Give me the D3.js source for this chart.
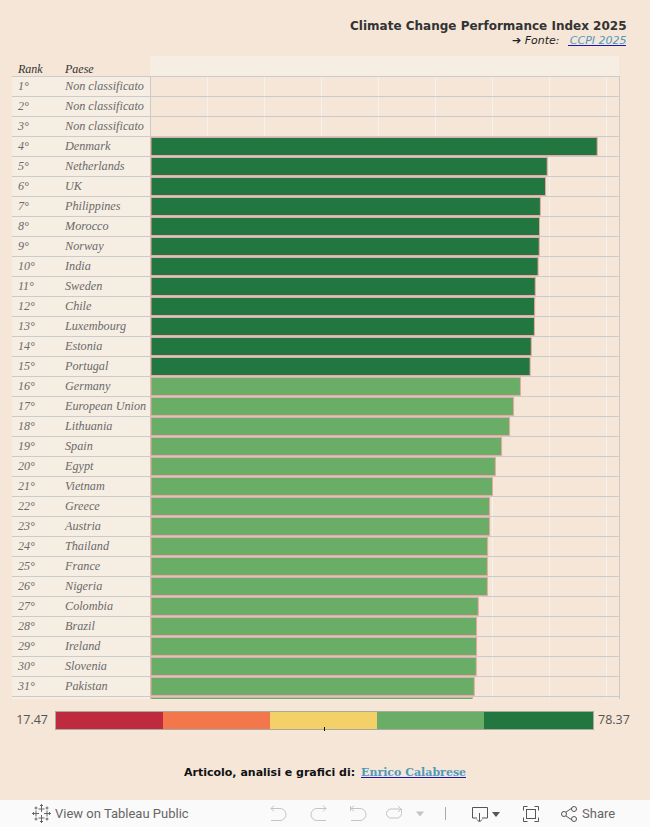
<!DOCTYPE html>
<html><head><meta charset="utf-8">
<script src="https://cdn.jsdelivr.net/npm/d3@7/dist/d3.min.js"></script>
<style>html,body{margin:0;padding:0;background:#f5e6d8;overflow:hidden}svg{display:block}</style>
</head><body><svg id="c" width="650" height="827"></svg>
<script>
const ranks = ["1°","2°","3°","4°","5°","6°","7°","8°","9°","10°","11°","12°","13°","14°","15°","16°","17°","18°","19°","20°","21°","22°","23°","24°","25°","26°","27°","28°","29°","30°","31°","32°"];
const countries = ["Non classificato","Non classificato","Non classificato","Denmark","Netherlands","UK","Philippines","Morocco","Norway","India","Sweden","Chile","Luxembourg","Estonia","Portugal","Germany","European Union","Lithuania","Spain","Egypt","Vietnam","Greece","Austria","Thailand","France","Nigeria","Colombia","Brazil","Ireland","Slovenia","Pakistan",""];
const scores = [null,null,null,78.37,69.6,69.3,68.4,68.25,68.2,68.0,67.5,67.4,67.35,66.8,66.6,64.9,63.7,63.0,61.6,60.5,60.0,59.5,59.5,59.15,59.1,59.1,57.5,57.2,57.2,57.15,56.8,56.5];
const tierOf = [null,null,null,"vh","vh","vh","vh","vh","vh","vh","vh","vh","vh","vh","vh","h","h","h","h","h","h","h","h","h","h","h","h","h","h","h","h","h"];
const xTicks = [10,20,30,40,50,60,70,80];
const legendColors = ["#be2a3e","#f2784b","#f3d068","#6aad66","#22763f"];
const legendRange = [17.47,78.37];
const colorOf = {vh:"#22763f",h:"#6aad66"};

const bg="#f5e6d8", light="#f6eee3", line="#cbcbcb";
const svg=d3.select("#c");
const x=d3.scaleLinear().domain([0,80]).range([150.5,606.5]);
const y=d3.scaleBand().domain(d3.range(ranks.length)).range([76.5,76.5+20*ranks.length]);
const serif="'Liberation Serif',serif", sans="'DejaVu Sans',sans-serif", dserif="'DejaVu Serif',serif";

svg.append("defs").append("clipPath").attr("id","vp").append("rect").attr("x",0).attr("y",56).attr("width",650).attr("height",643);

svg.append("rect").attr("x",150).attr("y",56).attr("width",469).attr("height",20).attr("fill",light);
const g=svg.append("g").attr("clip-path","url(#vp)");
g.append("rect").attr("x",12).attr("y",76).attr("width",138).attr("height",623).attr("fill",light);
g.selectAll(".grid").data(xTicks).join("line").attr("x1",d=>x(d)).attr("x2",d=>x(d)).attr("y1",77).attr("y2",699).attr("stroke","#f5f1ec").attr("stroke-width",1);
g.selectAll(".row").data(d3.range(ranks.length)).join("line").attr("x1",12).attr("x2",619.5).attr("y1",i=>y(i)).attr("y2",i=>y(i)).attr("stroke",line).attr("stroke-width",1);
g.append("line").attr("x1",150.5).attr("x2",150.5).attr("y1",76).attr("y2",699).attr("stroke",line);
g.append("line").attr("x1",619.5).attr("x2",619.5).attr("y1",76).attr("y2",699).attr("stroke",line);
const idx=d3.range(ranks.length).filter(i=>scores[i]!=null);
g.selectAll(".bar").data(idx).join("rect")
  .attr("x",x(0)+0.5).attr("y",i=>y(i)+1).attr("width",i=>x(scores[i])-x(0)-0.5).attr("height",y.bandwidth()-2)
  .attr("fill",i=>colorOf[tierOf[i]]).attr("stroke","#e8a9a0").attr("stroke-width",1);
g.selectAll(".rk").data(d3.range(ranks.length)).join("text").attr("x",18).attr("y",i=>y(i)+13.5).text(i=>countries[i]?ranks[i]:"")
  .attr("font-family",serif).attr("font-style","italic").attr("font-size",12).attr("fill","#6a6a6a");
g.selectAll(".ct").data(d3.range(ranks.length)).join("text").attr("x",65).attr("y",i=>y(i)+13.5).text(i=>countries[i])
  .attr("font-family",serif).attr("font-style","italic").attr("font-size",12.2).attr("fill","#6a6a6a");
[["Rank",18],["Paese",65]].forEach(([t,px])=>svg.append("text").attr("x",px).attr("y",73).text(t).attr("font-family",serif).attr("font-style","italic").attr("font-size",12).attr("fill","#333"));

svg.append("text").attr("x",626.5).attr("y",30).attr("text-anchor","end").text("Climate Change Performance Index 2025").attr("font-family",sans).attr("font-weight","bold").attr("font-size",12).attr("fill","#333");
svg.append("text").attr("x",512).attr("y",44).text("➔ Fonte:").attr("font-family",sans).attr("font-style","italic").attr("font-size",11).attr("fill","#222");
svg.append("text").attr("x",626.5).attr("y",44).attr("text-anchor","end").text("CCPI 2025").attr("font-family",sans).attr("font-style","italic").attr("font-size",11).attr("fill","#4f9ab8");
svg.append("line").attr("x1",568).attr("x2",626).attr("y1",45.5).attr("y2",45.5).attr("stroke","#1414c8");

const lx=d3.scaleBand().domain(d3.range(legendColors.length)).range([56,591]);
svg.selectAll(".lg").data(legendColors).join("rect").attr("x",(d,i)=>lx(i)).attr("y",712).attr("width",(d,i)=>lx.bandwidth()+(i===legendColors.length-1?2:0)).attr("height",17).attr("fill",d=>d);
svg.append("rect").attr("x",55.5).attr("y",711.5).attr("width",538).attr("height",18).attr("fill","none").attr("stroke","#a9a9a0");
svg.append("line").attr("x1",324.5).attr("x2",324.5).attr("y1",727).attr("y2",731).attr("stroke","#111");
svg.append("text").attr("x",48).attr("y",724).attr("text-anchor","end").text(legendRange[0].toFixed(2)).attr("font-family","'Open Sans',sans-serif").attr("font-size",12.5).attr("fill","#555");
svg.append("text").attr("x",598).attr("y",724).text(legendRange[1].toFixed(2)).attr("font-family","'Open Sans',sans-serif").attr("font-size",12.5).attr("fill","#555");

svg.append("text").attr("x",184).attr("y",776).attr("font-weight","bold").attr("font-size",11).text("Articolo, analisi e grafici di:").attr("font-family",sans).attr("fill","#111");
svg.append("text").attr("x",361).attr("y",776).attr("font-weight","bold").attr("font-size",11).text("Enrico Calabrese").attr("font-family",dserif).attr("fill","#4f9ab8");
svg.append("line").attr("x1",361).attr("x2",466).attr("y1",777.5).attr("y2",777.5).attr("stroke","#1414c8");

svg.append("rect").attr("x",0).attr("y",800).attr("width",650).attr("height",27).attr("fill","#fafafa");
const tb=svg.append("g").attr("fill","none").attr("stroke","#777").attr("stroke-width",1);
svg.append("text").attr("x",55).attr("y",818).text("View on Tableau Public").attr("font-family","Roboto,sans-serif").attr("font-size",13).attr("fill","#666");
svg.append("text").attr("x",582).attr("y",818).text("Share").attr("font-family","Roboto,sans-serif").attr("font-size",13).attr("fill","#666");
const logo=tb.append("g").attr("stroke","#666");
[[41.5,809,3],[41.5,818,3],[36,813.5,3],[47,813.5,3],[41.5,805.5,1.5],[41.5,821.5,1.5],[33.5,813.5,1.5],[49.5,813.5,1.5],[36,808,1.5],[47,808,1.5],[36,819,1.5],[47,819,1.5]].forEach(([a,b,r])=>{
  logo.append("line").attr("x1",a-r).attr("x2",a+r).attr("y1",b).attr("y2",b);
  logo.append("line").attr("x1",a).attr("x2",a).attr("y1",b-r).attr("y2",b+r);
});
const grey=tb.append("g").attr("stroke","#c4c4c4");
grey.append("path").attr("d","M271 808.500H280a6 6 0 0 1 0 12H271M271 808.500l3-3M271 808.500l3 3");
grey.append("path").attr("d","M326 808.500H317a6 6 0 0 0 0 12H326M326 808.500l-3-3M326 808.500l-3 3");
grey.append("path").attr("d","M350.500 806V811M351 808.500H360a6 6 0 0 1 0 12H351M351 808.500l3-3M351 808.500l3 3");
grey.append("path").attr("d","M401 809H391a4.500 4.500 0 0 0 0 9H397a4.500 4.500 0 0 0 4.500-4.500V809M401 809l-3-3M401 809l-3 3");
svg.append("path").attr("d","M416 811.500h8l-4 5z").attr("fill","#c4c4c4");
svg.append("line").attr("x1",445.5).attr("x2",445.5).attr("y1",807).attr("y2",820).attr("stroke","#aaa");
tb.append("path").attr("d","M477 818H472.500V807.500H487.500V818H482M479.500 813V821M477 819.500l2.500 2.500 2.500-2.500").attr("stroke","#555");
svg.append("path").attr("d","M492 812h8l-4 5z").attr("fill","#555");
tb.append("path").attr("d","M523.500 810.500v-4h4M534.500 806.500h4v4M538.500 817.500v4h-4M527.500 821.500h-4v-4").attr("stroke","#555");
tb.append("rect").attr("x",526.5).attr("y",809.5).attr("width",9).attr("height",9).attr("stroke","#555");
const sh=tb.append("g").attr("stroke","#555");
sh.append("path").attr("d","M566 812L572 808M566 816L572 820");
sh.append("circle").attr("cx",564).attr("cy",814).attr("r",2.5);
sh.append("circle").attr("cx",574).attr("cy",809).attr("r",2.5);
sh.append("circle").attr("cx",574).attr("cy",819).attr("r",2.5);
</script></body></html>
